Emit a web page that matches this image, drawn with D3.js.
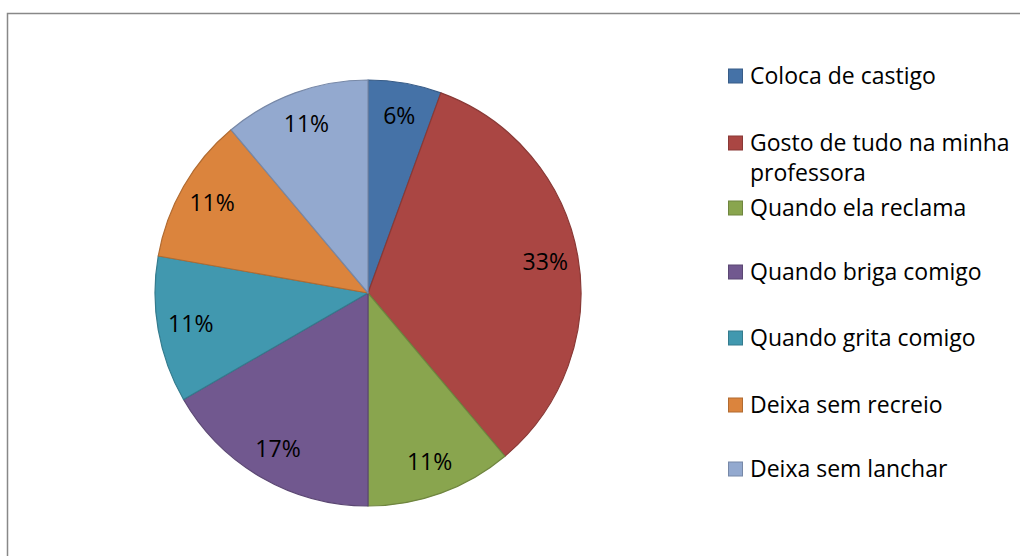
<!DOCTYPE html>
<html><head><meta charset="utf-8">
<script src="https://cdn.jsdelivr.net/npm/d3@7"></script>
<style>body{margin:0;background:#fff}svg{display:block}</style>
</head><body>
<svg id="c" width="1020" height="556"></svg>
<script>
const categories = ["Coloca de castigo","Gosto de tudo na minha professora","Quando ela reclama","Quando briga comigo","Quando grita comigo","Deixa sem recreio","Deixa sem lanchar"];
const values = [1,6,2,3,2,2,2];
const labels = ["6%","33%","11%","17%","11%","11%","11%"];
const colors = ["#4572A7","#AA4643","#89A54E","#71588F","#4198AF","#DB843D","#93A9CF"];
const legendLines = [["Coloca de castigo"],["Gosto de tudo na minha","professora"],["Quando ela reclama"],["Quando briga comigo"],["Quando grita comigo"],["Deixa sem recreio"],["Deixa sem lanchar"]];

const svg = d3.select("#c");
const font = "'Open Sans', sans-serif";
svg.append("rect").attr("x",7.5).attr("y",13.5).attr("width",1100).attr("height",700)
  .attr("fill","#fff").attr("stroke","#888").attr("stroke-width",1.5);

const cx=368, cy=293, R=213;
const pie = d3.pie().sort(null).value(d=>d);
const arcs = pie(values);
const arc = d3.arc().innerRadius(0).outerRadius(R);
const lab = d3.arc().innerRadius(180).outerRadius(180);
const g = svg.append("g").attr("transform",`translate(${cx},${cy})`);
g.selectAll("path").data(arcs).enter().append("path")
  .attr("d",arc).attr("fill",(d,i)=>colors[i])
  .attr("stroke",(d,i)=>d3.color(colors[i]).darker(0.6)).attr("stroke-width",1.2).attr("stroke-linejoin","round");
g.selectAll("text").data(arcs).enter().append("text")
  .attr("transform",d=>`translate(${lab.centroid(d)})`)
  .attr("text-anchor","middle").attr("dy","0.35em")
  .attr("font-family",font).attr("font-size",23).attr("fill","#000")
  .text((d,i)=>labels[i]);

const ly = [76,143,208,272,338,405,469];
const leg = svg.append("g");
categories.forEach((c,i)=>{
  leg.append("rect").attr("x",728.5).attr("y",ly[i]-7).attr("width",14).attr("height",14)
    .attr("fill",colors[i]).attr("stroke",d3.color(colors[i]).darker(0.6)).attr("stroke-width",1);
  const t = leg.append("text").attr("x",750).attr("y",ly[i])
    .attr("font-family",font).attr("font-size",23).attr("fill","#000");
  legendLines[i].forEach((l,j)=>{
    t.append("tspan").attr("x",750).attr("dy", j===0?"0.35em":"30px").text(l);
  });
});
</script>
</body></html>
